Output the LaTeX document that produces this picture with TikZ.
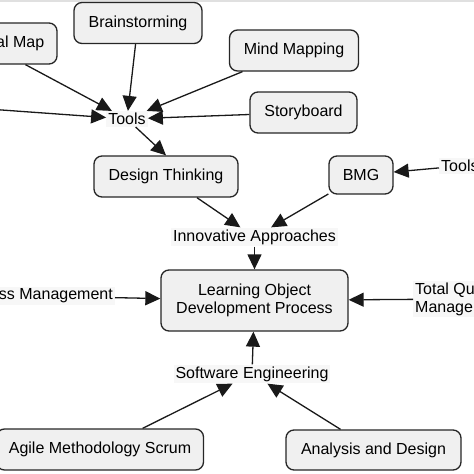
\documentclass[tikz,border=0pt]{standalone}
\usepackage{fontspec}
\setmainfont{Liberation Sans}
\usepackage{tikz}
\usetikzlibrary{arrows.meta}

\begin{document}
\begin{tikzpicture}[x=1pt,y=-1pt,
	font=\fontsize{16}{18}\selectfont,
	box/.style={draw=black!85,line width=1.3pt,rounded corners=8pt,fill=black!6,minimum height=41pt,inner sep=2pt},
	lbl/.style={fill=black!3,inner sep=2pt},
	arr/.style={draw=black!90,line width=1.3pt,-{Triangle[length=15pt,width=14pt]}}]
	\clip (0,0) rectangle (474,474);
	\fill[black!12] (0,0) rectangle (474,2);

	% tools level
	\node[box,minimum width=142pt] (cmap) at (-14,43.5) {Conceptual Map};
	\node[box,minimum width=128pt] (brain) at (138,23) {Brainstorming};
	\node[box,minimum width=129pt] (mind) at (294,50.5) {Mind Mapping};
	\node[box,minimum width=107pt] (story) at (303.5,112.5) {Storyboard};
	\node[lbl] (tools) at (127,119) {Tools};
	\coordinate (offl) at (-40,107);

	\node[box,minimum width=144pt] (dt) at (166,176.5) {Design Thinking};
	\node[box,minimum width=64pt,minimum height=38pt] (bmg) at (361,175) {BMG};
	\node[lbl,anchor=west] (tools2) at (439,166) {Tools};
	\node[lbl] (innov) at (254.5,237) {Innovative Approaches};

	% centre
	\node[box,minimum width=187pt,minimum height=61pt,align=center] (lodp) at (254.5,300.5) {Learning Object\\Development Process};
	\node[lbl,anchor=east] (pm) at (115,296) {Process Management};
	\node[lbl,anchor=west,align=left] (tqm) at (413,299) {Total Quality\\Management};

	% bottom
	\node[lbl] (se) at (252,374) {Software Engineering};
	\node[box,minimum width=207pt] (agile) at (100,449.5) {Agile Methodology Scrum};
	\node[box,minimum width=175pt,minimum height=40pt] (ad) at (373.5,450) {Analysis and Design};

	\draw[arr] (cmap) -- (tools);
	\draw[arr] (brain) -- (tools);
	\draw[arr] (mind) -- (tools);
	\draw[arr] (story) -- (tools);
	\draw[arr] (offl) -- (tools);
	\draw[arr] (tools) -- (dt.north);
	\draw[arr] (dt) -- (innov);
	\draw[arr] (bmg) -- (innov);
	\draw[arr] (tools2) -- (bmg);
	\draw[arr] (innov) -- (lodp);
	\draw[arr] (pm) -- (lodp);
	\draw[arr] (tqm) -- (lodp);
	\draw[arr] (se) -- (lodp);
	\draw[arr] (agile) -- (se);
	\draw[arr] (ad) -- (se);
\end{tikzpicture}
\end{document}
